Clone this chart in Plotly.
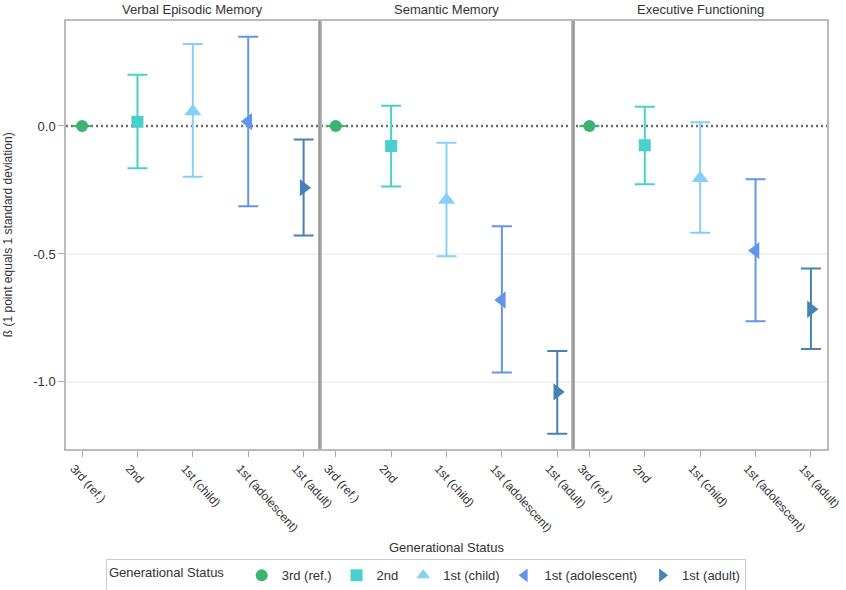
import plotly.graph_objects as go
from plotly.subplots import make_subplots

panels = ["Verbal Episodic Memory", "Semantic Memory", "Executive Functioning"]
groups = ["3rd (ref.)", "2nd", "1st (child)", "1st (adolescent)", "1st (adult)"]
symbols = ["circle", "square", "triangle-up", "triangle-left", "triangle-right"]
colors = ["#3CB371", "#48D1CC", "#87CEFA", "#6495ED", "#4682B4"]
msizes = [12, 12, 15, 15, 15]
ytick_vals = [-1.0, -0.5, 0.0]
ytick_text = ["-1.0", "-0.5", "0.0"]

# estimates per panel, in group order
beta_verbal = [0.0, 0.016, 0.056, 0.017, -0.241]
lo_verbal = [0.0, -0.165, -0.198, -0.314, -0.428]
hi_verbal = [0.0, 0.200, 0.320, 0.348, -0.053]

beta_semantic = [0.0, -0.078, -0.289, -0.680, -1.039]
lo_semantic = [0.0, -0.237, -0.509, -0.963, -1.202]
hi_semantic = [0.0, 0.079, -0.066, -0.392, -0.879]

beta_exec = [0.0, -0.075, -0.204, -0.487, -0.716]
lo_exec = [0.0, -0.228, -0.417, -0.763, -0.871]
hi_exec = [0.0, 0.075, 0.014, -0.208, -0.557]

betas = [beta_verbal, beta_semantic, beta_exec]
los = [lo_verbal, lo_semantic, lo_exec]
his = [hi_verbal, hi_semantic, hi_exec]

FONT = "Liberation Sans, Arial, sans-serif"
TXT = "#333333"

fig = make_subplots(rows=1, cols=3, shared_yaxes=True, horizontal_spacing=0)

for p in range(3):
    for g in range(5):
        b = betas[p][g]
        fig.add_trace(go.Scatter(
            x=[g], y=[b], mode="markers", name=groups[g],
            legendgroup=groups[g], showlegend=(p == 0),
            marker=dict(symbol=symbols[g], color=colors[g], size=msizes[g],
                        line=dict(width=0)),
            error_y=dict(type="data", symmetric=False,
                         array=[his[p][g] - b], arrayminus=[b - los[p][g]],
                         color=colors[g], thickness=2, width=10),
        ), row=1, col=p + 1)

# gridlines (non-zero) as shapes, so the dotted reference line stays crisp
for v in ytick_vals:
    if v != 0:
        fig.add_shape(type="line", xref="paper", yref="y", x0=0, x1=1,
                      y0=v, y1=v, line=dict(color="#e6e6e6", width=1),
                      layer="below")
fig.add_shape(type="line", xref="paper", yref="y", x0=0, x1=1, y0=0, y1=0,
              line=dict(color="#6e6e6e", width=2.5, dash="2px,3px"),
              layer="below")

for p in range(3):
    xr = f"x{'' if p == 0 else p + 1} domain"
    fig.update_xaxes(
        range=[-0.29, 4.29], tickmode="array", tickvals=list(range(5)),
        ticktext=groups, tickangle=48, ticks="outside", ticklen=6,
        tickcolor="#aaaaaa", showgrid=False, zeroline=False,
        showline=True, mirror=True, linecolor="#bbbbbb", linewidth=1.5,
        automargin=False, ticklabeloverflow="allow", ticklabelshift=-8,
        tickfont=dict(family=FONT, size=12, color=TXT),
        row=1, col=p + 1)
    fig.update_yaxes(
        range=[-1.262, 0.41], tickvals=ytick_vals, ticktext=ytick_text,
        showgrid=False, zeroline=False,
        showline=True, mirror=True, linecolor="#bbbbbb", linewidth=1.5,
        automargin=False,
        row=1, col=p + 1)
    fig.add_annotation(text=panels[p], xref=xr, yref="paper", x=0.5, y=1,
                       yanchor="bottom", yshift=2, showarrow=False,
                       font=dict(family=FONT, size=13, color=TXT))

# panel dividers
for xd in [1 / 3, 2 / 3]:
    fig.add_shape(type="line", xref="paper", yref="paper", x0=xd, x1=xd,
                  y0=0, y1=1, line=dict(color="#999999", width=2))

fig.update_yaxes(ticks="outside", ticklen=6, tickcolor="#aaaaaa",
                 tickfont=dict(family=FONT, size=13, color=TXT),
                 row=1, col=1)

fig.add_annotation(text="ß (1 point equals 1 standard deviation)",
                   xref="paper", yref="paper", x=-0.076, y=0.5,
                   textangle=-90, showarrow=False, xanchor="center",
                   yanchor="middle",
                   font=dict(family=FONT, size=12, color=TXT))

fig.add_annotation(text="Generational Status", xref="paper", yref="paper",
                   x=0.5, y=-0.229, yanchor="middle", showarrow=False,
                   font=dict(family=FONT, size=13, color=TXT))

fig.update_layout(
    width=846, height=590,
    margin=dict(l=66, r=19, t=21, b=141, autoexpand=False),
    plot_bgcolor="white", paper_bgcolor="white",
    font=dict(family=FONT, size=13, color=TXT),
    legend=dict(orientation="h", x=0.473, xanchor="center", y=-0.258,
                yanchor="top", bordercolor="#cccccc", borderwidth=1,
                title=dict(text="Generational Status   ", side="left",
                           font=dict(family=FONT, size=13, color=TXT)),
                font=dict(family=FONT, size=13, color=TXT),
                valign="middle", itemsizing="constant"),
    showlegend=True,
)

fig.write_html("out.html",
               config={"displayModeBar": False},
               post_script="document.body.style.margin='0px';"
                           "document.body.style.overflow='hidden';")
